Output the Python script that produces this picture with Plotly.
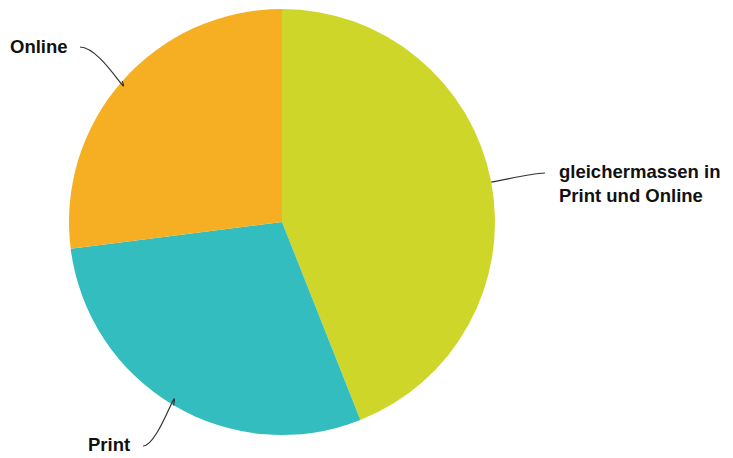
import math
import plotly.graph_objects as go

labels = ["gleichermassen in<br>Print und Online", "Print", "Online"]
values = [44, 29, 27]
colors = ["#CFD62A", "#33BDBF", "#F6AE22"]

W, H = 733, 458
cx, cy, r = 282, 222, 213

fig = go.Figure(go.Pie(
    labels=labels, values=values, sort=False, direction="clockwise", rotation=0,
    marker=dict(colors=colors, line=dict(width=0)),
    textinfo="none", hoverinfo="label+percent", showlegend=False,
    domain=dict(x=[(cx - r) / W, (cx + r) / W], y=[(H - cy - r) / H, (H - cy + r) / H]),
))

def px(x, y):
    return x / W, 1 - y / H

# label anchor (text end) positions and connector start, in pixels
label_pos = [(557, 183, "left", (545, 173)), (132, 444, "right", (143, 446)), (70, 47, "right", (80, 47))]
total = sum(values)
cum = 0
shapes, annotations = [], []
for (lab, v, (tx, ty, anchor, (sx, sy))) in zip(labels, values, label_pos):
    mid = (cum + v / 2) / total * 2 * math.pi
    cum += v
    ex = cx + r * math.sin(mid)
    ey = cy - r * math.cos(mid)
    if anchor == "left":
        c1x, c1y = sx - (sx - ex) * 0.3, sy + (ey - sy) * 0.1
        c2x, c2y = ex + (sx - ex) * 0.3, ey - (ey - sy) * 0.3
    else:
        c1x, c1y = sx + (ex - sx) * 0.5, sy
        c2x, c2y = ex - (ex - cx) * 0.05, ey - (ey - cy) * 0.15
    pts = [px(sx, sy), px(c1x, c1y), px(c2x, c2y), px(ex, ey)]
    path = "M {:.5f},{:.5f} C {:.5f},{:.5f} {:.5f},{:.5f} {:.5f},{:.5f}".format(*[c for p in pts for c in p])
    shapes.append(dict(type="path", xref="paper", yref="paper", path=path,
                       line=dict(color="#333333", width=1.2)))
    ax, ay = px(tx, ty)
    annotations.append(dict(x=ax, y=ay, xref="paper", yref="paper",
                            text="<b>" + lab.replace("<br>", "</b><br><b>") + "</b>", showarrow=False,
                            xanchor=anchor, yanchor="middle", align="left",
                            font=dict(family="Liberation Sans, Arial, sans-serif", size=18.5, color="#111111")))

fig.update_layout(
    width=W, height=H, margin=dict(l=0, r=0, t=0, b=0),
    paper_bgcolor="white", plot_bgcolor="white",
    shapes=shapes, annotations=annotations,
)
fig.write_html("out.html", config={"displayModeBar": False},
               post_script="document.body.style.margin='0';")
